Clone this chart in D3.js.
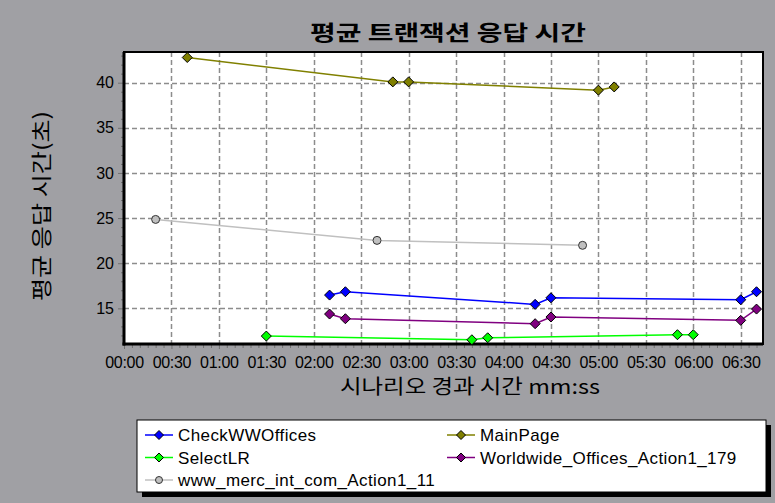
<!DOCTYPE html>
<html>
<head>
<meta charset="utf-8">
<script src="https://cdn.jsdelivr.net/npm/d3@7"></script>
<style>
  html, body { margin: 0; padding: 0; background: #a0a0a4; }
  svg { display: block; }
</style>
</head>
<body>
<svg id="chart" width="775" height="503"></svg>
<script>
// ---- data ----
const chartTitle = "평균 트랜잭션 응답 시간";
const yTitle = "평균 응답 시간(초)";
const xTitle = "시나리오 경과 시간 mm:ss";
const seriesNames = ["CheckWWOffices", "MainPage", "SelectLR", "Worldwide_Offices_Action1_179", "www_merc_int_com_Action1_11"];
const seriesColors = ["#0000ff", "#808000", "#00ff00", "#800080", "#c0c0c0"];
const seriesMarkers = ["diamond", "diamond", "diamond", "diamond", "circle"];
// elapsed seconds, response time (s)
const checkWWOffices = [[130, 16.47], [140, 16.84], [260, 15.44], [270, 16.17], [390, 15.95], [400, 16.84]];
const mainPage = [[40, 42.79], [170, 40.09], [180, 40.09], [300, 39.17], [310, 39.53]];
const selectLR = [[90, 11.93], [220, 11.52], [230, 11.74], [350, 12.08], [360, 12.08]];
const worldwideOffices = [[130, 14.37], [140, 13.85], [260, 13.30], [270, 14.04], [390, 13.67], [400, 14.92]];
const wwwMerc = [[20, 24.85], [160, 22.53], [290, 21.98]];
const seriesData = [checkWWOffices, mainPage, selectLR, worldwideOffices, wwwMerc];
const xTickSeconds = [0, 30, 60, 90, 120, 150, 180, 210, 240, 270, 300, 330, 360, 390];
const yTickValues = [15, 20, 25, 30, 35, 40];

// ---- layout ----
const svg = d3.select("#chart");
const W = 775, H = 503;
const plot = { left: 124, right: 763, top: 52, bottom: 344 };
const latin = "'Liberation Sans', Arial, sans-serif";
const kr = "'Noto Sans CJK KR', 'Noto Sans', sans-serif";

svg.append("rect").attr("width", W).attr("height", H).attr("fill", "#a0a0a4");

const x = d3.scaleLinear().domain([0, 404.1]).range([plot.left, plot.right]);
const y = d3.scaleLinear().domain([11.05, 43.4]).range([plot.bottom, plot.top]);

const fmt = s => String(Math.floor(s / 60)).padStart(2, "0") + ":" + String(s % 60).padStart(2, "0");

// plot background
svg.append("rect")
  .attr("x", plot.left).attr("y", plot.top)
  .attr("width", plot.right - plot.left).attr("height", plot.bottom - plot.top)
  .attr("fill", "#ffffff");

// grid
const grid = svg.append("g").attr("stroke", "#8c8c8c").attr("stroke-width", 1.5).attr("stroke-dasharray", "5,3");
grid.selectAll("line.h").data(yTickValues).join("line")
  .attr("x1", plot.left).attr("x2", plot.right)
  .attr("y1", d => Math.round(y(d)) + 0.5).attr("y2", d => Math.round(y(d)) + 0.5);
grid.selectAll("line.v").data(xTickSeconds.filter(d => d > 0)).join("line")
  .attr("y1", plot.top).attr("y2", plot.bottom)
  .attr("x1", d => Math.round(x(d)) + 0.5).attr("x2", d => Math.round(x(d)) + 0.5);

// x axis (ticks + minor ticks)
const xAxis = d3.axisBottom(x).tickValues(xTickSeconds).tickFormat(fmt).tickSize(5).tickPadding(8);
const gx = svg.append("g").attr("transform", `translate(0,${plot.bottom})`).call(xAxis);
gx.select(".domain").remove();
gx.selectAll(".tick line").attr("stroke", "#707070");
gx.selectAll("text").attr("font-family", latin).attr("font-size", 16).attr("fill", "#000").attr("letter-spacing", "-0.3px");
const xMinor = d3.range(0, 404, 5).filter(d => d % 30 !== 0);
const gxm = svg.append("g").attr("transform", `translate(0,${plot.bottom})`)
  .call(d3.axisBottom(x).tickValues(xMinor).tickSize(4).tickFormat(""));
gxm.select(".domain").remove();
gxm.selectAll(".tick line").attr("stroke", "#707070");

// y axis
const yAxis = d3.axisLeft(y).tickValues(yTickValues).tickSize(6).tickPadding(4);
const gy = svg.append("g").attr("transform", `translate(${plot.left},0)`).call(yAxis);
gy.select(".domain").remove();
gy.selectAll(".tick line").attr("stroke", "#707070");
gy.selectAll("text").attr("font-family", latin).attr("font-size", 16).attr("fill", "#000");
const yMinor = d3.range(12, 44, 1).filter(d => d % 5 !== 0);
const gym = svg.append("g").attr("transform", `translate(${plot.left},0)`)
  .call(d3.axisLeft(y).tickValues(yMinor).tickSize(3).tickFormat(""));
gym.select(".domain").remove();
gym.selectAll(".tick line").attr("stroke", "#707070");

// frame
svg.append("rect")
  .attr("x", plot.left).attr("y", plot.top)
  .attr("width", plot.right - plot.left).attr("height", plot.bottom - plot.top)
  .attr("fill", "none").attr("stroke", "#000").attr("stroke-width", 2);
svg.append("line").attr("x1", plot.left).attr("x2", plot.left).attr("y1", plot.top).attr("y2", plot.bottom + 1.5)
  .attr("stroke", "#000").attr("stroke-width", 3);
svg.append("line").attr("x1", plot.left - 1.5).attr("x2", plot.right).attr("y1", plot.bottom).attr("y2", plot.bottom)
  .attr("stroke", "#000").attr("stroke-width", 3);

// series
const line = d3.line().x(d => x(d[0])).y(d => y(d[1]));
const diamond = d3.symbol().type(d3.symbolDiamond2 || d3.symbolSquare2).size(60);
function drawMarker(g, type, color, cx, cy) {
  if (type === "circle") {
    g.append("circle").attr("cx", cx).attr("cy", cy).attr("r", 4)
      .attr("fill", color).attr("stroke", "#333").attr("stroke-width", 1);
  } else {
    g.append("path").attr("d", "M0,-5L5,0L0,5L-5,0Z")
      .attr("transform", `translate(${cx},${cy})`)
      .attr("fill", color).attr("stroke", "#000").attr("stroke-width", 1);
  }
}
const order = [4, 1, 2, 3, 0];
order.forEach(i => {
  const g = svg.append("g");
  g.append("path").datum(seriesData[i]).attr("d", line)
    .attr("fill", "none").attr("stroke", seriesColors[i]).attr("stroke-width", i === 4 ? 1.5 : 1.5);
  seriesData[i].forEach(d => drawMarker(g, seriesMarkers[i], seriesColors[i], x(d[0]), y(d[1])));
});

// titles
svg.append("text").attr("x", 448).attr("y", 40).attr("text-anchor", "middle")
  .attr("font-family", kr).attr("font-weight", "bold").attr("font-size", 21)
  .attr("textLength", 276).attr("lengthAdjust", "spacingAndGlyphs")
  .text(chartTitle);
svg.append("text").attr("transform", "translate(49,206) rotate(-90)").attr("text-anchor", "middle")
  .attr("font-family", kr).attr("font-size", 21)
  .attr("textLength", 190).attr("lengthAdjust", "spacingAndGlyphs")
  .text(yTitle);
svg.append("text").attr("x", 470).attr("y", 394).attr("text-anchor", "middle")
  .attr("font-family", kr).attr("font-size", 20)
  .attr("textLength", 260).attr("lengthAdjust", "spacingAndGlyphs")
  .text(xTitle);

// legend
const lg = { x: 137, y: 420, w: 629, h: 72 };
svg.append("rect").attr("x", lg.x + 5).attr("y", lg.y + 5).attr("width", lg.w).attr("height", lg.h).attr("fill", "#000");
svg.append("rect").attr("x", lg.x).attr("y", lg.y).attr("width", lg.w).attr("height", lg.h)
  .attr("fill", "#fff").attr("stroke", "#000").attr("stroke-width", 1);
const colX = [145, 447];
const rowY = [435, 457.5, 480];
seriesNames.forEach((name, i) => {
  const cx = colX[i % 2], cy = rowY[Math.floor(i / 2)];
  const g = svg.append("g");
  g.append("line").attr("x1", cx).attr("x2", cx + 28).attr("y1", cy).attr("y2", cy)
    .attr("stroke", seriesColors[i]).attr("stroke-width", 1.5);
  if (seriesMarkers[i] === "circle") {
    g.append("circle").attr("cx", cx + 14).attr("cy", cy).attr("r", 3.5)
      .attr("fill", seriesColors[i]).attr("stroke", "#333");
  } else {
    g.append("path").attr("d", "M0,-4.5L4.5,0L0,4.5L-4.5,0Z").attr("transform", `translate(${cx + 14},${cy})`)
      .attr("fill", seriesColors[i]).attr("stroke", "#000");
  }
  g.append("text").attr("x", cx + 33).attr("y", cy + 6)
    .attr("font-family", latin).attr("font-size", 17).attr("letter-spacing", "0.4px").attr("fill", "#000")
    .text(name);
});
</script>
</body>
</html>
